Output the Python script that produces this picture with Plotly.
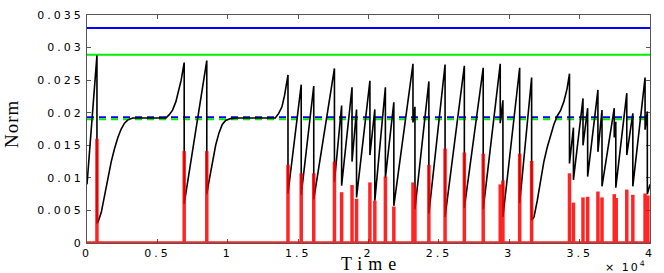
import plotly.graph_objects as go

# ---- data (time in units of 1e4) ----
black_t = [0.000, 0.0707, 0.0707, 0.078, 0.1015, 0.125, 0.1486, 0.1722, 0.1958, 0.2193, 0.2429,
           0.2664, 0.290, 0.3253, 0.360, 0.561, 0.5845, 0.608, 0.6316, 0.655, 0.669, 0.6905,
           0.6905, 0.851, 0.851, 0.867, 0.8905, 0.914, 0.9378, 0.961, 0.985, 1.020, 1.067,
           1.338, 1.362, 1.385, 1.404, 1.4205, 1.428, 1.428, 1.522, 1.522, 1.611, 1.611,
           1.758, 1.758, 1.809, 1.809, 1.883, 1.883, 1.915, 1.915, 2.010, 2.010, 2.045,
           2.045, 2.120, 2.120, 2.180, 2.180, 2.316, 2.316, 2.330, 2.330, 2.429, 2.429,
           2.544, 2.544, 2.681, 2.681, 2.815, 2.815, 2.936, 2.936, 2.955, 2.955, 3.074,
           3.074, 3.159, 3.159, 3.176, 3.199, 3.223, 3.246, 3.270, 3.294, 3.317, 3.341,
           3.364, 3.388, 3.411, 3.428, 3.428, 3.456, 3.456, 3.524, 3.524, 3.557, 3.557,
           3.630, 3.630, 3.659, 3.659, 3.746, 3.746, 3.757, 3.757, 3.835, 3.835, 3.878,
           3.878, 3.965, 3.965, 3.981, 3.981, 4.000]
black_norm = [0.0090, 0.0288, 0.0030, 0.0032, 0.0047, 0.0075, 0.0100, 0.0125, 0.0145, 0.0162, 0.0175,
              0.0184, 0.0189, 0.0192, 0.0192, 0.0192, 0.0197, 0.0204, 0.0217, 0.0237, 0.0250, 0.0277,
              0.0060, 0.0280, 0.0075, 0.0095, 0.0125, 0.0150, 0.0169, 0.0182, 0.0188, 0.0191, 0.0192,
              0.0192, 0.0199, 0.0209, 0.0227, 0.0247, 0.0258, 0.0076, 0.0243, 0.0074, 0.0241, 0.0067,
              0.0268, 0.0094, 0.0211, 0.0088, 0.0239, 0.0125, 0.0205, 0.0070, 0.0249, 0.0135, 0.0205,
              0.0065, 0.0239, 0.0100, 0.0216, 0.0057, 0.0275, 0.0185, 0.0209, 0.0052, 0.0248, 0.0045,
              0.0274, 0.0040, 0.0272, 0.0054, 0.0269, 0.0052, 0.0275, 0.0184, 0.0219, 0.0040, 0.0269,
              0.0061, 0.0254, 0.0035, 0.0040, 0.0065, 0.0095, 0.0125, 0.0147, 0.0165, 0.0182, 0.0195,
              0.0203, 0.0217, 0.0237, 0.0260, 0.0122, 0.0177, 0.0097, 0.0222, 0.0150, 0.0207, 0.0102,
              0.0235, 0.0140, 0.0204, 0.0087, 0.0207, 0.0162, 0.0186, 0.0085, 0.0230, 0.0135, 0.0199,
              0.0087, 0.0254, 0.0174, 0.0202, 0.0075, 0.0090]

spike_t = [0.0707, 0.6905, 0.851, 1.428, 1.522, 1.611, 1.758, 1.809, 1.883, 1.915, 2.010, 2.045,
           2.120, 2.180, 2.316, 2.330, 2.429, 2.544, 2.681, 2.815, 2.936, 2.955, 3.074, 3.159,
           3.428, 3.456, 3.524, 3.557, 3.630, 3.659, 3.746, 3.760, 3.835, 3.878, 3.965, 3.985]
spike_h = [0.0160, 0.0141, 0.0141, 0.0120, 0.0107, 0.0107, 0.0125, 0.0078, 0.0089, 0.0068, 0.0093, 0.0065,
           0.0102, 0.0056, 0.0093, 0.0085, 0.0120, 0.0145, 0.0139, 0.0137, 0.0090, 0.0096, 0.0137, 0.0126,
           0.0107, 0.0062, 0.0070, 0.0071, 0.0079, 0.0070, 0.0075, 0.0069, 0.0082, 0.0074, 0.0076, 0.0073]

blue_level = 0.0330
green_level = 0.0289
blue_dashed_level = 0.0193
green_dashed_level = 0.0190

x_range = [0, 4]
x_ticks = [0, 0.5, 1, 1.5, 2, 2.5, 3, 3.5, 4]
x_tick_labels = ["0", "0.5", "1", "1.5", "2", "2.5", "3", "3.5", "4"]
y_ticks = [0, 0.005, 0.01, 0.015, 0.02, 0.025, 0.03, 0.035]
y_tick_labels = ["0", "0.005", "0.01", "0.015", "0.02", "0.025", "0.03", "0.035"]


def spaced(s, px):
    return '<span style="letter-spacing:%gpx">%s</span>' % (px, s)


fig = go.Figure()

# horizontal reference levels
for lvl, col, dash in [(blue_level, "#0000ff", "solid"), (green_level, "#00ee00", "solid"),
                       (blue_dashed_level, "#0000ff", "7px,5px"), (green_dashed_level, "#00ee00", "7px,5px")]:
    fig.add_trace(go.Scatter(x=x_range, y=[lvl, lvl], mode="lines",
                             line=dict(color=col, width=2, dash=dash), hoverinfo="skip", showlegend=False))

# black norm curve
fig.add_trace(go.Scatter(x=black_t, y=black_norm, mode="lines",
                         line=dict(color="black", width=1.6), showlegend=False))

# red spikes (baseline + vertical spikes)
rx = [x_range[0], x_range[1], None]
ry = [0, 0, None]
for t, h in zip(spike_t, spike_h):
    rx += [t, t, None]
    ry += [0, h, None]
fig.add_trace(go.Scatter(x=rx, y=ry, mode="lines", line=dict(color="#ff0000", width=3.5),
                         opacity=0.85, connectgaps=False, showlegend=False))

tickfont = dict(family="DejaVu Sans", size=11, color="black")
axis_common = dict(showline=True, linecolor="#555555", linewidth=1, mirror="ticks",
                   ticks="inside", ticklen=4, tickcolor="#555555", showgrid=False,
                   zeroline=False, layer="below traces", tickfont=tickfont)

fig.update_xaxes(range=x_range, tickmode="array", tickvals=x_ticks,
                 ticktext=[spaced(s, 3) for s in x_tick_labels], **axis_common)
fig.update_yaxes(range=[0, 0.035], tickmode="array", tickvals=y_ticks,
                 ticktext=[spaced(s, 3) for s in y_tick_labels], **axis_common)

fig.add_annotation(text=spaced("Time", 6), xref="paper", yref="paper", x=0.505, y=-0.128,
                   xanchor="center", yanchor="bottom", yshift=-3, borderpad=0, showarrow=False,
                   font=dict(family="Liberation Serif", size=18, color="black"))
fig.add_annotation(text=spaced("Norm", 1), xref="paper", yref="paper", x=-0.134, y=0.52,
                   xanchor="center", yanchor="middle", textangle=-90, showarrow=False,
                   font=dict(family="Liberation Serif", size=19, color="black"))
fig.add_annotation(text=spaced("× 10", 2) + "<sup>4</sup>", xref="paper", yref="paper",
                   x=0.995, y=-0.105, xanchor="right", yanchor="middle", showarrow=False,
                   font=dict(family="DejaVu Sans", size=11, color="black"))

fig.update_layout(width=664, height=273, margin=dict(l=87, r=11, t=9, b=30),
                  paper_bgcolor="white", plot_bgcolor="white")

fig.write_html("out.html", config={"displayModeBar": False},
               post_script="document.body.style.margin='0';")
